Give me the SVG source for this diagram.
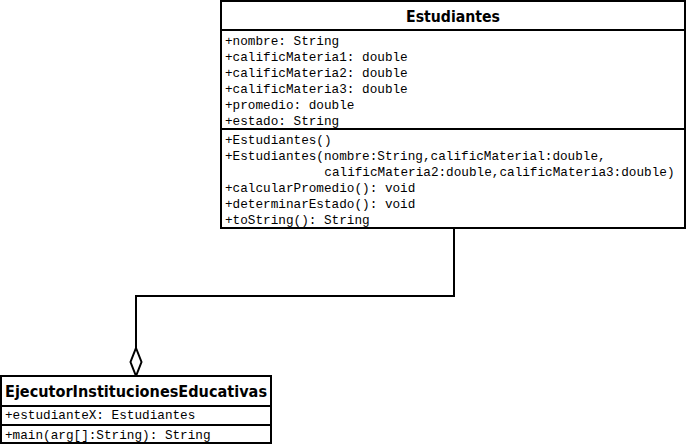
<svg xmlns="http://www.w3.org/2000/svg" width="688" height="447" viewBox="0 0 688 447">
<style>
.box{fill:#fff;stroke:#000;stroke-width:2}
.sep{stroke:#000;stroke-width:2}
.title{font-family:"DejaVu Sans","Liberation Sans",sans-serif;font-weight:bold;font-size:16px;fill:#000}
.m{font-family:"Liberation Mono","Courier New",monospace;font-size:12.7px;fill:#000}
.conn{fill:none;stroke:#000;stroke-width:2}
</style>
<rect width="688" height="447" fill="#fff"/>
<g id="connectors">
<polyline class="conn" points="454,229 454,296 136,296 136,348"/>
<polygon points="136,348 141.5,362 136,376 130.5,362" fill="#fff" stroke="#000" stroke-width="2"/>
</g>
<g id="Estudiantes">
<rect class="box" x="221" y="1" width="464" height="227"/>
<line class="sep" x1="221" y1="30" x2="685" y2="30"/>
<line class="sep" x1="221" y1="129" x2="685" y2="129"/>
<text class="title" x="453" y="22" text-anchor="middle" textLength="94" lengthAdjust="spacingAndGlyphs">Estudiantes</text>
<text class="m" x="225" y="45">+nombre: String</text>
<text class="m" x="225" y="61">+calificMateria1: double</text>
<text class="m" x="225" y="77">+calificMateria2: double</text>
<text class="m" x="225" y="93">+calificMateria3: double</text>
<text class="m" x="225" y="109">+promedio: double</text>
<text class="m" x="225" y="125">+estado: String</text>
<text class="m" x="225" y="144">+Estudiantes()</text>
<text class="m" x="225" y="160">+Estudiantes(nombre:String,calificMaterial:double,</text>
<text class="m" x="324.3" y="176">calificMateria2:double,calificMateria3:double)</text>
<text class="m" x="225" y="192">+calcularPromedio(): void</text>
<text class="m" x="225" y="208">+determinarEstado(): void</text>
<text class="m" x="225" y="224">+toString(): String</text>
</g>
<g id="EjecutorInstitucionesEducativas">
<rect class="box" x="1" y="376" width="270" height="67"/>
<line class="sep" x1="1" y1="406" x2="271" y2="406"/>
<line class="sep" x1="1" y1="425" x2="271" y2="425"/>
<text class="title" x="136" y="397" text-anchor="middle" textLength="262" lengthAdjust="spacingAndGlyphs">EjecutorInstitucionesEducativas</text>
<text class="m" x="5" y="419">+estudianteX: Estudiantes</text>
<text class="m" x="5" y="439">+main(arg[]:String): String</text>
</g>
</svg>
